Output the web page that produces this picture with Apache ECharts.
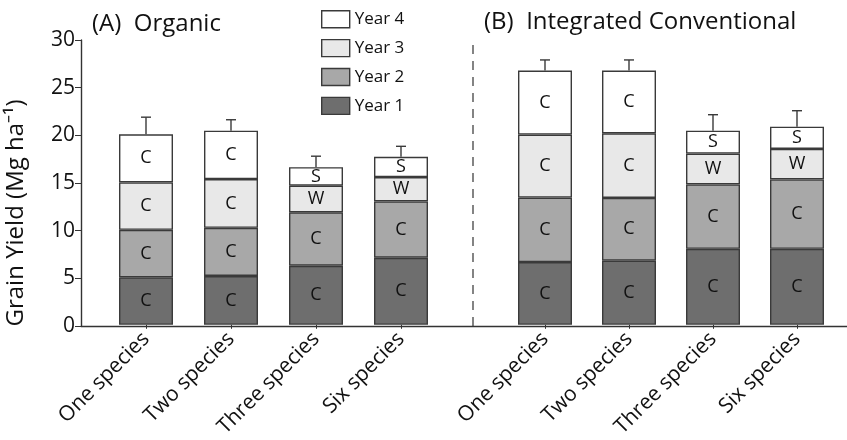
<!DOCTYPE html>
<html><head><meta charset="utf-8">
<script src="https://cdn.jsdelivr.net/npm/echarts@6/dist/echarts.min.js"></script>
<style>html,body{margin:0;padding:0;background:#fff}#c{width:847px;height:440px}</style>
</head><body><div id="c"></div>
<script>
const categories = ['One species', 'Two species', 'Three species', 'Six species'];
const seriesNames = ['Year 1', 'Year 2', 'Year 3', 'Year 4'];
// Panel A: Organic
const organicY1 = [5.0, 5.14, 6.22, 7.06];
const organicY2 = [5.0, 5.07, 5.63, 5.94];
const organicY3 = [5.0, 5.14, 2.8, 2.56];
const organicY4 = [5.07, 5.1, 1.95, 2.14];
const organicErr = [1.8, 1.15, 1.16, 1.1];
// Panel B: Integrated Conventional
const convY1 = [6.61, 6.75, 8.0, 8.0];
const convY2 = [6.79, 6.61, 6.79, 7.31];
const convY3 = [6.64, 6.81, 3.25, 3.22];
const convY4 = [6.74, 6.61, 2.41, 2.34];
const convErr = [1.12, 1.12, 1.68, 1.68];
// segment letters
const lettersY1 = ['C', 'C', 'C', 'C'];
const lettersY2 = ['C', 'C', 'C', 'C'];
const lettersY3 = ['C', 'C', 'W', 'W'];
const lettersY4 = ['C', 'C', 'S', 'S'];
const yTicks = [0, 5, 10, 15, 20, 25, 30];

const colors = ['#6e6e6e', '#a8a8a8', '#e8e8e8', '#ffffff'];
const FONT = 'Open Sans';
const chart = echarts.init(document.getElementById('c'));

function stackSeries(panelIdx, vals, errs) {
  const letters = [lettersY1, lettersY2, lettersY3, lettersY4];
  const out = vals.map((v, i) => ({
    name: seriesNames[i],
    type: 'bar',
    stack: 'p' + panelIdx,
    xAxisIndex: panelIdx + 1,
    yAxisIndex: panelIdx + 1,
    barWidth: 54,
    data: v,
    itemStyle: { color: colors[i], borderColor: '#3a3a3a', borderWidth: 1.4 },
    label: {
      show: true, position: 'inside', color: '#111', fontFamily: FONT, fontSize: 18,
      formatter: p => letters[i][p.dataIndex]
    },
    emphasis: { disabled: true },
    z: 3
  }));
  const totals = vals[0].map((_, j) => vals.reduce((s, a) => s + a[j], 0));
  out.push({
    type: 'custom',
    xAxisIndex: panelIdx + 1,
    yAxisIndex: panelIdx + 1,
    data: totals.map((t, j) => [j, t, t + errs[j]]),
    renderItem: (params, api) => {
      const p0 = api.coord([api.value(0), api.value(1)]);
      const p1 = api.coord([api.value(0), api.value(2)]);
      const st = { stroke: '#3a3a3a', lineWidth: 1.4 };
      return { type: 'group', children: [
        { type: 'line', shape: { x1: p0[0], y1: p0[1], x2: p1[0], y2: p1[1] }, style: st },
        { type: 'line', shape: { x1: p1[0] - 5, y1: p1[1], x2: p1[0] + 5, y2: p1[1] }, style: st }
      ]};
    },
    z: 2
  });
  return out;
}

const TOP = 40, BOTTOM = 114;
const catAxis = (gi) => ({
  type: 'category', gridIndex: gi, data: categories,
  axisLine: { show: false },
  axisTick: { show: true, alignWithLabel: true, length: 4, lineStyle: { color: '#333' } },
  axisLabel: { rotate: 45, fontFamily: FONT, fontSize: 21, color: '#111', margin: 11 }
});
const hiddenY = (gi) => ({ type: 'value', gridIndex: gi, min: 0, max: 30, interval: 5, show: false });

const option = {
  animation: false,
  backgroundColor: '#fff',
  legend: {
    orient: 'vertical', left: 316, top: 5,
    data: ['Year 4', 'Year 3', 'Year 2', 'Year 1'],
    icon: 'rect',
    itemWidth: 28, itemHeight: 17, itemGap: 10.5,
    textStyle: { fontFamily: FONT, fontSize: 17, color: '#111' },
    itemStyle: { borderColor: '#3a3a3a', borderWidth: 1.4 },
    selectedMode: false
  },
  grid: [
    { left: 81, right: 0, top: TOP, bottom: BOTTOM },
    { left: 103.5, width: 340, top: TOP, bottom: BOTTOM },
    { left: 503, width: 336, top: TOP, bottom: BOTTOM }
  ],
  xAxis: [
    { type: 'value', gridIndex: 0, min: 0, max: 1, axisLine: { show: true, onZero: false, lineStyle: { color: '#333', width: 1.4 } },
      axisTick: { show: false }, axisLabel: { show: false }, splitLine: { show: false } },
    catAxis(1), catAxis(2)
  ],
  yAxis: [
    { type: 'value', gridIndex: 0, min: yTicks[0], max: yTicks[yTicks.length - 1], interval: 5,
      axisLine: { show: true, lineStyle: { color: '#333', width: 1.4 } },
      axisTick: { show: true, length: 6, lineStyle: { color: '#333' } },
      axisLabel: { fontFamily: FONT, fontSize: 21, color: '#111', margin: 6 },
      splitLine: { show: false } },
    hiddenY(1), hiddenY(2)
  ],
  graphic: [
    { type: 'text', left: 92, top: 12, style: { text: '(A)  Organic', font: '24px "Open Sans"', fill: '#111' } },
    { type: 'text', left: 484, top: 10, style: { text: '(B)  Integrated Conventional', font: '24px "Open Sans"', fill: '#111' } },
    { type: 'text', x: 4, y: 213, rotation: Math.PI / 2, style: { text: 'Grain Yield (Mg ha⁻¹)', font: '24px "Open Sans"', fill: '#111', align: 'center', verticalAlign: 'top' } },
    { type: 'line', shape: { x1: 473, y1: 45, x2: 473, y2: 332 }, style: { stroke: '#333', lineWidth: 1.2, lineDash: [9, 7] } }
  ],
  series: [
    ...stackSeries(0, [organicY1, organicY2, organicY3, organicY4], organicErr),
    ...stackSeries(1, [convY1, convY2, convY3, convY4], convErr)
  ]
};
chart.setOption(option);
</script></body></html>
